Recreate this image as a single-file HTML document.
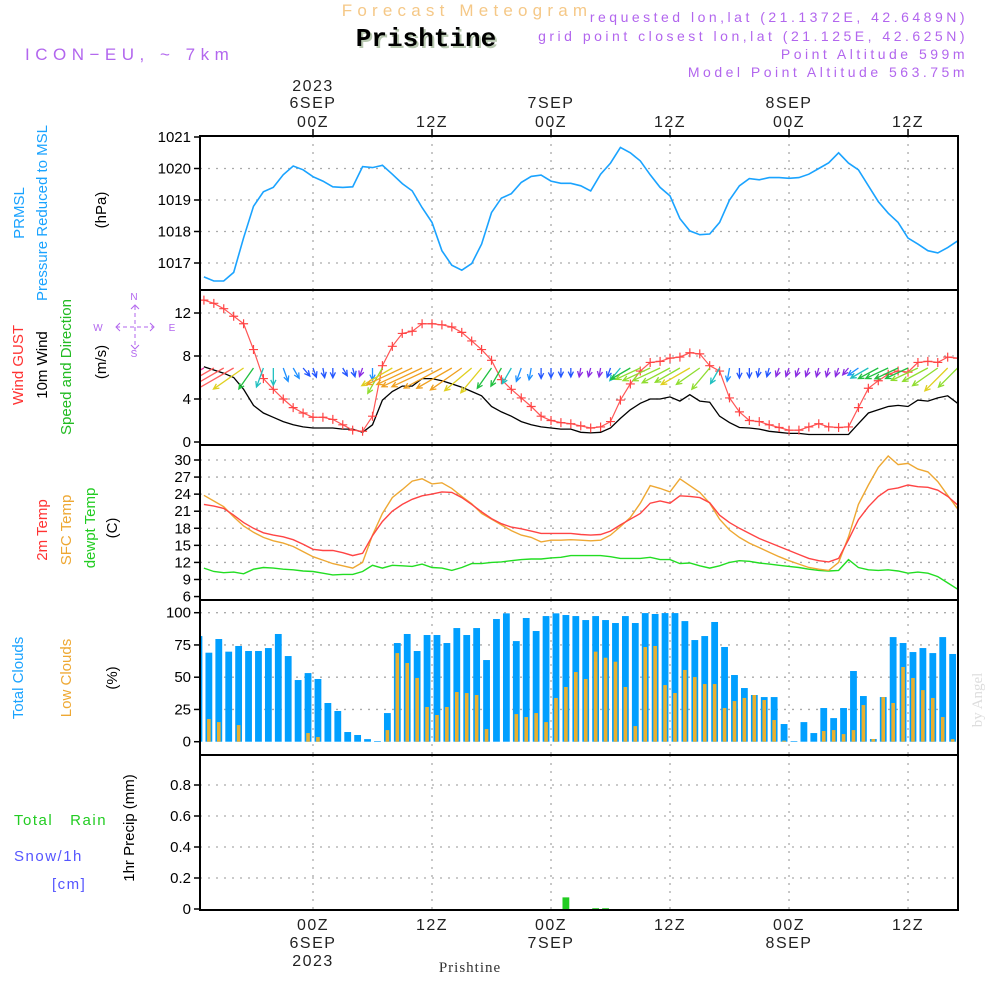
<!DOCTYPE html>
<html><head><meta charset="utf-8"><style>
html,body{margin:0;padding:0;background:#fff;}
svg{display:block;font-family:"Liberation Sans",sans-serif;}
</style></head><body>
<svg id="chart" width="1000" height="1000" viewBox="0 0 1000 1000" xmlns="http://www.w3.org/2000/svg">
<rect width="1000" height="1000" fill="#fff"/>
<text x="467" y="16" text-anchor="middle" font-size="17" fill="#f5c887" letter-spacing="5.2">Forecast Meteogram</text>
<text x="428" y="48" text-anchor="middle" font-family="Liberation Mono,monospace" font-weight="bold" font-size="26" fill="#b8c8b0">Prishtine</text>
<text x="426" y="46" text-anchor="middle" font-family="Liberation Mono,monospace" font-weight="bold" font-size="26" fill="#000">Prishtine</text>
<text x="25" y="60" font-size="17" fill="#b266ee" letter-spacing="5.5">ICON−EU, ~ 7km</text>
<g font-size="14" fill="#b266ee" text-anchor="end" letter-spacing="3.5">
<text x="968" y="22">requested lon,lat (21.1372E, 42.6489N)</text>
<text x="968" y="41">grid point closest lon,lat (21.125E, 42.625N)</text>
<text x="968" y="59">Point Altitude 599m</text>
<text x="968" y="77">Model Point Altitude 563.75m</text>
</g>
<g font-size="15" text-anchor="middle">
<text transform="translate(24,213) rotate(-90)" fill="#1aa3ff">PRMSL</text>
<text transform="translate(47,213) rotate(-90)" fill="#1aa3ff">Pressure Reduced to MSL</text>
<text transform="translate(106,210) rotate(-90)" fill="#000">(hPa)</text>
<text transform="translate(23,365) rotate(-90)" fill="#ff3333">Wind GUST</text>
<text transform="translate(47,365) rotate(-90)" fill="#000">10m Wind</text>
<text transform="translate(71,367) rotate(-90)" fill="#22bb22">Speed and Direction</text>
<text transform="translate(106,362) rotate(-90)" fill="#000">(m/s)</text>
<text transform="translate(47,530) rotate(-90)" fill="#ff3333">2m Temp</text>
<text transform="translate(71,530) rotate(-90)" fill="#eea833">SFC Temp</text>
<text transform="translate(95,528) rotate(-90)" fill="#22cc22">dewpt Temp</text>
<text transform="translate(117,528) rotate(-90)" fill="#000">(C)</text>
<text transform="translate(23,678) rotate(-90)" fill="#1aa3ff">Total Clouds</text>
<text transform="translate(71,678) rotate(-90)" fill="#eea833">Low Clouds</text>
<text transform="translate(117,678) rotate(-90)" fill="#000">(%)</text>
<text transform="translate(134,828) rotate(-90)" fill="#000">1hr Precip (mm)</text>
</g>
<g font-size="15" letter-spacing="1.5">
<text x="14" y="825" fill="#22cc22">Total&#160;&#160;&#160;Rain</text>
<text x="14" y="861" fill="#5555ff">Snow/1h</text>
<text x="52" y="889" fill="#5555ff">[cm]</text>
</g>
<g fill="#b266ee" stroke="#b266ee" font-size="10">
<text x="134" y="300" text-anchor="middle" stroke="none">N</text>
<text x="134" y="357" text-anchor="middle" stroke="none">S</text>
<text x="98" y="331" text-anchor="middle" stroke="none">W</text>
<text x="172" y="331" text-anchor="middle" stroke="none">E</text>
<line x1="116" y1="327" x2="153" y2="327" stroke-dasharray="4,3"/>
<line x1="135" y1="306" x2="135" y2="348" stroke-dasharray="4,3"/>
<polyline points="120,323 116,327 120,331" fill="none"/>
<polyline points="150,323 154,327 150,331" fill="none"/>
<polyline points="131,309 135,305 139,309" fill="none"/>
<polyline points="131,345 135,349 139,345" fill="none"/>
</g>
<text transform="translate(982,700) rotate(-90)" text-anchor="middle" font-family="Liberation Serif,serif" font-size="15" fill="#ddd">by Angel</text>
<text x="470" y="972" text-anchor="middle" font-family="Liberation Serif,serif" font-size="15" fill="#333" letter-spacing="1">Prishtine</text>
<g id="plot"></g>
</svg>
<script>
// ---------- data (hourly, hour index -11 .. 65 relative to 00Z 6SEP) ----------
const startHour = -11;
const pressure = [1016.56,1016.43,1016.43,1016.7,1017.8,1018.8,1019.26,1019.4,1019.8,1020.08,1019.96,1019.74,
1019.6,1019.42,1019.4,1019.42,1020.06,1020.03,1020.1,1019.82,1019.52,1019.29,1018.76,1018.29,
1017.39,1016.93,1016.77,1016.98,1017.6,1018.6,1019.06,1019.2,1019.56,1019.75,1019.79,1019.6,
1019.53,1019.53,1019.45,1019.29,
1019.82,1020.17,1020.67,1020.5,1020.24,1019.8,1019.4,1019.13,1018.41,1018.02,1017.9,1017.92,
1018.29,1019.0,1019.45,1019.68,1019.64,1019.71,1019.71,1019.69,1019.71,1019.82,1020.0,1020.18,
1020.5,1020.17,1019.96,1019.45,1018.95,1018.58,1018.29,1017.79,1017.6,1017.39,1017.32,1017.49,1017.7];
const gust = [13.2,12.9,12.4,11.7,11.0,8.6,5.9,4.9,4.0,3.2,2.7,2.3,
2.3,2.1,1.6,1.1,1.0,2.4,7.1,8.9,10.1,10.3,11.0,11.0,
10.9,10.7,10.2,9.4,8.6,7.6,5.8,4.9,4.1,3.3,2.4,2.0,
1.8,1.7,1.5,1.3,
1.4,1.9,3.9,5.4,6.6,7.4,7.5,7.8,7.9,8.3,8.2,7.1,
6.6,4.1,2.8,2.0,1.9,1.6,1.35,1.1,1.1,1.4,1.7,1.4,
1.35,1.4,3.2,5.0,5.7,6.3,6.6,6.5,7.4,7.5,7.4,7.9,7.8];
const wind10m = [7.0,6.7,6.4,6.0,4.9,3.4,2.7,2.3,1.9,1.6,1.4,1.3,
1.3,1.3,1.2,1.2,0.9,1.6,3.9,4.7,5.2,5.2,5.9,5.9,
5.7,5.4,5.1,4.7,4.3,3.3,2.8,2.4,1.9,1.6,1.4,1.3,
1.2,1.2,0.9,0.85,
0.9,1.3,2.2,3.0,3.6,4.0,4.0,4.2,3.8,4.4,3.8,3.7,
2.4,1.8,1.35,1.3,1.2,1.0,0.9,0.8,0.8,0.7,0.7,0.7,
0.7,0.7,1.7,2.7,3.0,3.3,3.4,3.3,3.9,3.8,4.1,4.3,3.6];
const windDir = [60,60,60,60,55,35,20,0,340,330,320,340,
350,0,330,345,20,0,30,60,65,65,65,65,
62,60,55,50,40,35,30,30,20,10,0,0,
0,0,10,15,
10,20,40,60,65,65,65,62,60,60,55,40,
30,10,0,0,10,15,20,20,20,20,15,15,
20,40,55,60,62,65,65,65,65,62,55,45,45];
const t2m = [22.2,21.9,21.5,20.3,19.0,18.0,17.2,16.8,16.5,16.0,15.2,14.3,
14.1,14.1,13.7,13.2,13.6,16.7,19.2,21.0,22.2,23.1,23.7,24.0,
24.4,24.3,23.4,22.2,20.9,19.7,18.8,18.2,17.9,17.5,17.1,17.1,
17.1,17.1,16.9,16.8,
16.9,17.5,18.6,19.6,20.6,22.4,22.8,22.4,23.7,23.6,23.4,22.5,
20.3,19.0,18.0,17.1,16.2,15.5,14.8,14.1,13.4,12.7,12.3,12.1,
12.7,16.0,19.5,21.8,23.6,24.8,25.1,25.6,25.3,25.2,24.7,23.6,22.1];
const tSfc = [23.8,22.8,21.8,20.0,18.4,17.3,16.4,15.8,15.4,14.8,13.9,13.0,
12.4,11.8,11.4,11.0,12.0,16.8,20.6,23.4,24.8,26.3,26.7,25.8,
26.0,25.0,23.6,22.3,20.6,19.6,18.6,17.6,16.8,16.4,15.6,15.9,
15.9,16.0,15.9,15.8,
15.9,16.8,18.3,19.9,22.4,25.5,25.0,24.4,26.7,25.5,24.3,22.4,
19.6,17.7,16.4,15.4,14.6,13.8,13.0,12.3,11.7,11.1,10.8,10.6,
12.0,16.5,22.2,25.6,28.7,30.7,29.2,29.4,28.4,27.9,26.2,23.8,21.4];
const tDew = [11.0,10.4,10.2,10.3,10.0,10.8,11.1,11.0,10.8,10.7,10.5,10.4,
10.1,9.8,9.9,9.9,10.4,11.5,11.0,11.5,11.4,11.3,11.7,11.1,
11.0,10.6,11.1,11.8,11.8,12.0,12.1,12.3,12.5,12.6,12.6,12.8,
12.9,13.2,13.2,13.2,
13.2,13.0,12.7,12.7,12.7,12.9,12.5,12.5,11.8,11.9,11.4,11.0,
11.4,12.0,12.3,12.2,11.9,11.7,11.5,11.3,11.1,10.8,10.6,10.5,
10.6,12.5,11.1,10.7,10.6,10.7,10.5,10.1,10.3,10.1,9.5,8.4,7.3];
// bars centred at half hours, starting -11.5
const barStart = -11.5;
const cloudTotal = [81.9,69,79.6,69.8,74.2,70.3,70.3,72.6,83.5,66.4,47.8,53.2,48.6,30,23.8,7.5,5.2,2,0.5,22.2,
76.5,83.5,70.3,82.7,82.7,76.5,88.1,82.7,88.1,63.3,95.1,99.5,78,95.9,85.8,97.4,99.5,98.2,97.4,94.3,
97.4,94.3,92,97.4,92,99.7,99,99.7,99.7,93.5,78.8,81.9,92.8,73.4,51.7,41.6,36.2,34.6,34.6,13.7,
0.5,15.2,6.7,26.1,18.3,26.1,54.8,35.4,2.1,34.6,81.1,76.5,69.5,72.6,68.7,81.1,68];
const cloudLow = [22,17.6,15.2,0,12.9,0,0,0,0,0,0,6.7,3.6,0,0,0,0,0,0,9,
68.7,61,49.4,26.9,20.7,26.9,38.5,37.7,36.2,9.8,0,0,21.4,19.1,22.2,15.2,33.9,42.4,54,48.6,
69.8,65.1,62,42.4,12.1,73.4,74.2,43.9,37.7,55.6,50.1,44.7,44.7,26.1,31.5,33.9,36.2,32.3,16.8,0.8,
0,0,0,8.3,9,5.9,9,28.4,2.1,34.6,30,57.9,49.4,40,33.9,19.1,2];
const rain = new Array(77).fill(0);
rain[37] = 0.075; rain[40] = 0.005; rain[41] = 0.005;
const pressTicks = [1017,1018,1019,1020,1021];
const windTicks = [0,4,8,12];
const tempTicks = [6,9,12,15,18,21,24,27,30];
const cloudTicks = [0,25,50,75,100];
const precipTicks = [0,0.2,0.4,0.6,0.8];
const precipTickLabels = ["0","0.2","0.4","0.6","0.8"];
const timeTicks = [0,12,24,36,48,60];
const timeLabels = ["00Z","12Z","00Z","12Z","00Z","12Z"];
const dateLabels = ["6SEP","","7SEP","","8SEP",""];

// ---------- scales ----------
const L = 200, R = 958;
const xH = h => 313 + h * 9.917;
const yP = p => 137 + (1021 - p) * 31.5;
const yW = v => 442 - v * 10.75;
const yT = t => 460 + (30 - t) * 5.69;
const yC = c => 741.7 - c * 1.29;
const yR = r => 909 - r * 155;
const panels = [[136,290],[290,445],[445,600],[600,755],[755,910]];

const NS = "http://www.w3.org/2000/svg";
const plot = document.getElementById('plot');
function mk(tag, attrs, parent) {
  const e = document.createElementNS(NS, tag);
  for (const k in attrs) e.setAttribute(k, attrs[k]);
  (parent || plot).appendChild(e);
  return e;
}
const defs = mk('defs', {});
const cp = mk('clipPath', {id: 'clipAll'}, defs);
mk('rect', {x: L, y: 136, width: R - L, height: 774}, cp);

// gridlines
const grid = mk('g', {stroke: '#aaa', 'stroke-width': 1.3, 'stroke-dasharray': '2,6'});


panels.forEach(([a, b]) => {
  timeTicks.forEach(h => mk('line', {x1: xH(h), x2: xH(h), y1: a, y2: b}, grid));
});
function hgrid(vals, fy) { vals.forEach(v => mk('line', {x1: L, x2: R, y1: fy(v), y2: fy(v)}, grid)); }
hgrid(pressTicks.slice(0, 4), yP); hgrid(windTicks.slice(1), yW); hgrid(tempTicks.slice(1), yT);
hgrid(cloudTicks.slice(1), yC); hgrid(precipTicks.slice(1), yR);

// tick labels
const tg = mk('g', {'font-size': 15, 'text-anchor': 'end', fill: '#000'});


function yt(vals, fy, labels) {
  vals.forEach((v, i) => {
    const t = mk('text', {x: 191, y: fy(v) + 5}, tg);
    t.textContent = labels ? labels[i] : String(v);
    mk('line', {x1: L - 6, x2: L, y1: fy(v), y2: fy(v), stroke: '#000', 'stroke-width': 1.5}, tg);
  });
}
yt(pressTicks, yP); yt(windTicks, yW); yt(tempTicks, yT); yt(cloudTicks, yC); yt(precipTicks, yR, precipTickLabels);

// time labels
const xg = mk('g', {'font-size': 16, 'text-anchor': 'middle', fill: '#222', 'letter-spacing': '1.5'});


timeTicks.forEach((h, i) => {
  const x = xH(h);
  let t = mk('text', {x: x, y: 127}, xg); t.textContent = timeLabels[i];
  t = mk('text', {x: x, y: 930}, xg); t.textContent = timeLabels[i];
  if (dateLabels[i]) {
    t = mk('text', {x: x, y: 108}, xg); t.textContent = dateLabels[i];
    t = mk('text', {x: x, y: 948}, xg); t.textContent = dateLabels[i];
  }
  mk('line', {x1: x, x2: x, y1: 129, y2: 136, stroke: '#000', 'stroke-width': 1.5}, xg);
});
let yr = mk('text', {x: xH(0), y: 91}, xg); yr.textContent = '2023';
yr = mk('text', {x: xH(0), y: 966}, xg); yr.textContent = '2023';

const body = mk('g', {'clip-path': 'url(#clipAll)'});
function line(arr, fy, color, name, w) {
  const pts = arr.map((v, i) => xH(startHour + i).toFixed(1) + ',' + fy(v).toFixed(1)).join(' ');
  const p = mk('polyline', {points: pts, fill: 'none', stroke: color, 'stroke-width': w || 1.4}, body);
  
  
  return p;
}
// pressure
line(pressure, yP, '#1aa3ff', 'pressure-line', 1.6);
// clouds
const cg = mk('g', {}, body);


cloudTotal.forEach((v, i) => {
  const x = xH(barStart + i);
  const b = mk('rect', {x: x - 3.4, y: yC(v), width: 6.8, height: Math.max(0, yC(0) - yC(v)), fill: '#009fff'}, cg);
  
  
  const lv = cloudLow[i];
  if (lv > 0) {
    const o = mk('rect', {x: x - 1.8, y: yC(lv), width: 3.6, height: yC(0) - yC(lv), fill: '#e8b030'}, cg);
    
    
  }
});
// precip
rain.forEach((v, i) => {
  if (v <= 0) return;
  const x = xH(barStart + i);
  const b = mk('rect', {x: x - 3.4, y: yR(v), width: 6.8, height: yR(0) - yR(v), fill: '#22cc22'}, body);
  
  
});
// temperatures
line(tDew, yT, '#22dd22', 'dewpoint-line');
line(tSfc, yT, '#eea833', 'sfc-temp-line');
line(t2m, yT, '#ff4444', 'temp-2m-line');
// wind
line(wind10m, yW, '#000', 'wind-10m-line', 1.3);
line(gust, yW, '#ff5555', 'gust-line', 1.2);
gust.forEach((v, i) => {
  const x = xH(startHour + i), y = yW(v);
  const m = mk('path', {d: `M${x-4.5},${y}h9M${x},${y-4.5}v9`, stroke: '#ff4444', 'stroke-width': 1.2}, body);
  
  
});
function windColor(s) {
  if (s < 1.0) return '#8a2be2';
  if (s < 1.6) return '#2255ff';
  if (s < 2.2) return '#1e90ff';
  if (s < 2.8) return '#20c0c0';
  if (s < 3.6) return '#20c040';
  if (s < 4.3) return '#90dd30';
  if (s < 5.0) return '#e0d020';
  if (s < 6.0) return '#f0a020';
  if (s < 6.8) return '#ff6060';
  return '#ee3399';
}
wind10m.forEach((s, i) => {
  const x = xH(startHour + i), y = 368;
  const d = windDir[i] * Math.PI / 180;
  const len = Math.max(9, s * 7.5);
  const ux = -Math.sin(d), uy = Math.cos(d);
  const ex = x + ux * len, ey = y + uy * len;
  const a = Math.atan2(uy, ux), hl = 6;
  const h1x = ex - hl * Math.cos(a - 0.45), h1y = ey - hl * Math.sin(a - 0.45);
  const h2x = ex - hl * Math.cos(a + 0.45), h2y = ey - hl * Math.sin(a + 0.45);
  const p = mk('path', {d: `M${x},${y}L${ex},${ey}M${h1x},${h1y}L${ex},${ey}L${h2x},${h2y}`, fill: 'none', stroke: windColor(s), 'stroke-width': 1.3}, body);
  
  
});
// frames
const fr = mk('g', {stroke: '#000', 'stroke-width': 2, fill: 'none'});


panels.forEach(([a, b]) => mk('rect', {x: L, y: a, width: R - L, height: b - a}, fr));
</script>
</body></html>
